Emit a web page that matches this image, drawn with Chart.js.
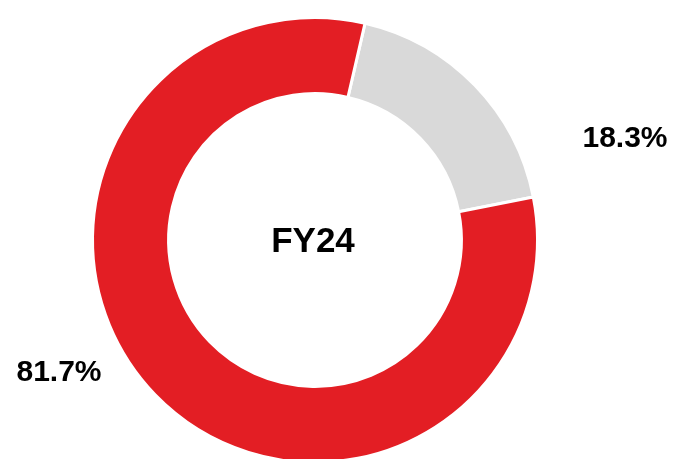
<!DOCTYPE html>
<html>
<head>
<meta charset="utf-8">
<script src="https://cdn.jsdelivr.net/npm/chart.js@4.4.1/dist/chart.umd.min.js"></script>
<style>
    html, body { margin: 0; padding: 0; background: #fff; overflow: hidden; }
    #wrap { position: relative; width: 674px; height: 482px; }
</style>
</head>
<body>
<div id="wrap"><canvas id="chart"></canvas></div>
<script>
// Donnees du graphique
const categories = ['Other', 'Main'];
const shares = [18.3, 81.7];
const sliceColors = ['#D9D9D9', '#E31E24'];
const centerTitle = 'FY24';

// label offsets from the donut centre (px)
const labelOffsets = [[310, -101], [-256, 133]];

const labelsPlugin = {
    id: 'donutLabels',
    afterDraw(chart) {
        const ctx = chart.ctx;
        const arc = chart.getDatasetMeta(0).data[0];
        const cx = arc.x, cy = arc.y;
        ctx.save();
        ctx.fillStyle = '#000';
        ctx.textAlign = 'center';
        ctx.textBaseline = 'middle';
        ctx.font = 'bold 35px "Liberation Sans", Arial, sans-serif';
        ctx.fillText(centerTitle, cx - 2, cy + 2);
        ctx.font = 'bold 30px "Liberation Sans", Arial, sans-serif';
        shares.forEach((v, i) => {
            ctx.fillText(v.toFixed(1) + '%', cx + labelOffsets[i][0], cy + labelOffsets[i][1]);
        });
        ctx.restore();
    }
};

new Chart(document.getElementById('chart'), {
    type: 'doughnut',
    data: {
        labels: categories,
        datasets: [{
            data: shares,
            backgroundColor: sliceColors,
            borderColor: '#ffffff',
            borderWidth: 3,
            hoverOffset: 0
        }]
    },
    options: {
        responsive: true,
        maintainAspectRatio: false,
        animation: false,
        rotation: 13,
        cutout: '65.8%',
        layout: { padding: { left: 91, right: 135, top: 16, bottom: 18 } },
        plugins: {
            legend: { display: false },
            tooltip: { enabled: false }
        }
    },
    plugins: [labelsPlugin]
});
</script>
</body>
</html>
